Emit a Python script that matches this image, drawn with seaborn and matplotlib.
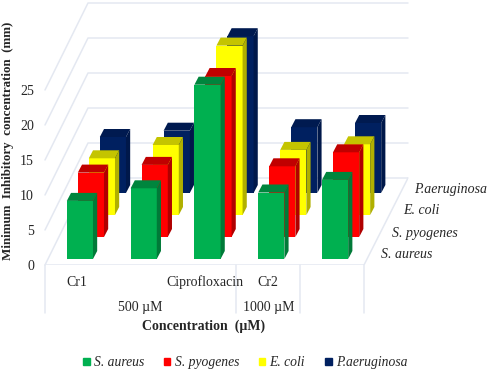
import pandas as pd
import matplotlib.pyplot as plt
import seaborn as sns
from matplotlib.patches import Patch

# values
compounds = ['Cr1', '', 'Ciprofloxacin', 'Cr2', '']
species = ['S. aureus', 'S. pyogenes', 'E. coli', 'P.aeruginosa']
s_aureus = [8.3, 10.1, 24.9, 9.5, 11.3]
s_pyogenes = [9.2, 10.3, 23.0, 10.1, 12.1]
e_coli = [8.1, 10.0, 24.2, 9.3, 10.1]
p_aeruginosa = [8.0, 8.9, 22.4, 9.4, 10.0]
all_values = [s_aureus, s_pyogenes, e_coli, p_aeruginosa]
y_ticks = [0, 5, 10, 15, 20, 25]

front_colors = ['#00B050', '#FF0000', '#FFFF00', '#002060']
top_colors = ['#00853D', '#C00000', '#C4C400', '#001A50']
side_colors = ['#007A38', '#B00000', '#B0B000', '#00184A']
grid_color = '#E4E8F1'

sns.set_style('white')
plt.rcParams['font.family'] = ['Liberation Serif', 'DejaVu Serif']

fig = plt.figure(figsize=(4.91, 3.69), dpi=100)
ax = fig.add_axes([45 / 491, 104 / 369, 363 / 491, 265 / 369])

# pixel sizes of one data unit and of the fake depth
px_x = 63.8
px_y = 7.0
xmax = 363 / px_x
ymax = 265 / px_y
depth_dx = 43 / px_x
depth_dy = 87 / px_y

# back wall and floor
for t in y_ticks:
    ax.plot([0, depth_dx, xmax], [t, t + depth_dy, t + depth_dy], color=grid_color, lw=1.1, zorder=0, clip_on=False)
ax.plot([0, 319 / px_x, xmax], [0, 0, depth_dy], color=grid_color, lw=1.1, zorder=0)

# bars, back row first
for j in range(3, -1, -1):
    offset_x = (3 + 11 * j) / px_x
    base = (6 + 22 * j) / px_y
    df = pd.DataFrame({'pos': [k + 0.5 + offset_x for k in range(5)], 'value': all_values[j]})
    sns.barplot(data=df, x='pos', y='value', native_scale=True, color=front_colors[j], saturation=1,
                width=0.41, bottom=base, errorbar=None, linewidth=0, zorder=2 + (3 - j), ax=ax)
    bar_w = 0.41 / 2
    ddx = 4.2 / px_x
    ddy = 8 / px_y
    for pos, val in zip(df['pos'], df['value']):
        top = base + val
        ax.fill([pos - bar_w, pos + bar_w, pos + bar_w + ddx, pos - bar_w + ddx],
                [top, top, top + ddy, top + ddy], color=top_colors[j], lw=0, zorder=2 + (3 - j))
        ax.fill([pos + bar_w, pos + bar_w + ddx, pos + bar_w + ddx, pos + bar_w],
                [base, base + ddy, top + ddy, top], color=side_colors[j], lw=0, zorder=2 + (3 - j))

ax.set_xlim(0, xmax)
ax.set_ylim(0, ymax)
ax.patch.set_alpha(0)
sns.despine(ax=ax, left=True, bottom=True)
ax.set_xticks([])
ax.set_yticks(y_ticks)
ax.tick_params(axis='y', length=0, pad=8, labelsize=10)
ax.set_xlabel('')
ax.set_ylabel('Minimum  Inhibitory  concentration  (mm)', fontweight='bold', fontsize=9.4)
ax.yaxis.set_label_coords(-31 / 363, 124 / 265)

# two level category axis under the floor
for k in [0, 3, 4, 5]:
    ax.plot([k, k], [0, -48 / px_y], color=grid_color, lw=1.1, clip_on=False)
for k, name in enumerate(compounds):
    if name:
        ax.text(k + 0.5, -17 / px_y, name, ha='center', va='center', fontsize=10)
ax.text(1.5, -42 / px_y, '500 µM', ha='center', va='center', fontsize=10)
ax.text(3.5, -42 / px_y, '1000 µM', ha='center', va='center', fontsize=10)
ax.text(204 / 63.8 - 45 / 63.8, -61 / px_y, 'Concentration  (µM)', ha='center', va='center', fontweight='bold', fontsize=10)

# depth axis labels
for j, name in enumerate(species):
    ax.text((336 + 11 * j) / px_x, (10 + 22 * j) / px_y, name, style='italic', ha='left', va='center', fontsize=10)

handles = [Patch(color=c, label=s) for c, s in zip(front_colors, species)]
fig.legend(handles=handles, loc='lower center', bbox_to_anchor=(245 / 491, -0.034), ncol=4, frameon=False,
           handlelength=0.5, handleheight=0.5, handletextpad=0.3, columnspacing=1.45,
           prop={'style': 'italic', 'size': 9.8})

fig.savefig('out.png', dpi=100)
